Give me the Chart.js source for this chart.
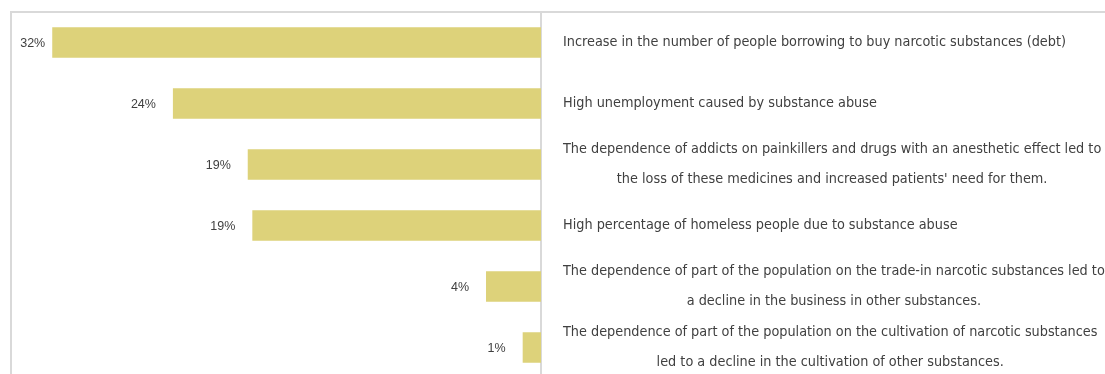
<!DOCTYPE html>
<html lang="en">
<head>
    <meta charset="UTF-8">
    <title>Effects of substance abuse</title>
    <script src="https://cdn.jsdelivr.net/npm/chart.js"></script>
    <style>
        body { margin: 0; overflow: hidden; background: #fff; }
        #wrap { width: 1105px; height: 374px; overflow: hidden; }
    </style>
</head>
<body>
<div id="wrap">
    <canvas id="effectsChart" width="1105" height="390"></canvas>
</div>

<script>
// each entry is one label, split into the lines it is drawn on
const categories = [
    ["Increase in the number of people borrowing to buy narcotic substances (debt)"],
    ["High unemployment caused by substance abuse"],
    ["The dependence of addicts on painkillers and drugs with an anesthetic effect led to",
     "the loss of these medicines and increased patients' need for them."],
    ["High percentage of homeless people due to substance abuse"],
    ["The dependence of part of the population on the trade-in narcotic substances led to",
     "a decline in the business in other substances."],
    ["The dependence of part of the population on the cultivation of narcotic substances",
     "led to a decline in the cultivation of other substances."]
];
const shares = [32.0, 24.1, 19.2, 18.9, 3.6, 1.2];

const barColor = '#ddd27a';
const textColor = '#404040';
const lineColor = '#d9d9d9';

// outer frame, value labels and the category texts to the right of the axis
const decorations = {
    id: 'decorations',
    beforeDraw(chart) {
        const ctx = chart.ctx;
        ctx.save();
        ctx.strokeStyle = lineColor;
        ctx.lineWidth = 2;
        ctx.strokeRect(11, 12, 2000, 1000);
        ctx.restore();
    },
    afterDatasetsDraw(chart) {
        const ctx = chart.ctx;
        const meta = chart.getDatasetMeta(0);
        const area = chart.chartArea;
        ctx.save();
        ctx.fillStyle = textColor;
        ctx.textBaseline = 'middle';

        ctx.font = '12.5px "Liberation Sans", Arial, sans-serif';
        ctx.textAlign = 'right';
        meta.data.forEach((bar, i) => {
            const txt = Math.round(shares[i]) + '%';
            const w = ctx.measureText(txt).width;
            const left = Math.min(bar.x, bar.base);
            let x = left - 17;
            if (x - w < area.left + 8) x = left - 7;
            ctx.fillText(txt, x, bar.y + 1);
        });

        ctx.font = '14.3px "Liberation Sans Narrow", "DejaVu Sans Condensed", sans-serif';
        const x0 = 563;
        meta.data.forEach((bar, i) => {
            const lines = categories[i];
            if (lines.length === 1) {
                ctx.textAlign = 'left';
                ctx.fillText(lines[0], x0, bar.y);
            } else {
                const widest = Math.max(...lines.map(l => ctx.measureText(l).width));
                ctx.textAlign = 'center';
                lines.forEach((l, k) => {
                    ctx.fillText(l, x0 + widest / 2, bar.y - 15 + k * 29.5);
                });
            }
        });
        ctx.restore();
    }
};

new Chart(document.getElementById('effectsChart'), {
    type: 'bar',
    data: {
        labels: categories,
        datasets: [{
            data: shares,
            backgroundColor: barColor,
            borderWidth: 0,
            barPercentage: 0.5,
            categoryPercentage: 1
        }]
    },
    options: {
        indexAxis: 'y',
        responsive: false,
        animation: false,
        layout: { padding: { left: 11, top: 12, right: 556, bottom: 12 } },
        plugins: {
            legend: { display: false },
            tooltip: { enabled: false }
        },
        scales: {
            x: {
                reverse: true,
                min: 0,
                max: 34.7,
                display: false
            },
            y: {
                position: 'right',
                grid: { display: false },
                ticks: { display: false },
                border: { color: lineColor, width: 2 }
            }
        }
    },
    plugins: [decorations]
});
</script>
</body>
</html>
